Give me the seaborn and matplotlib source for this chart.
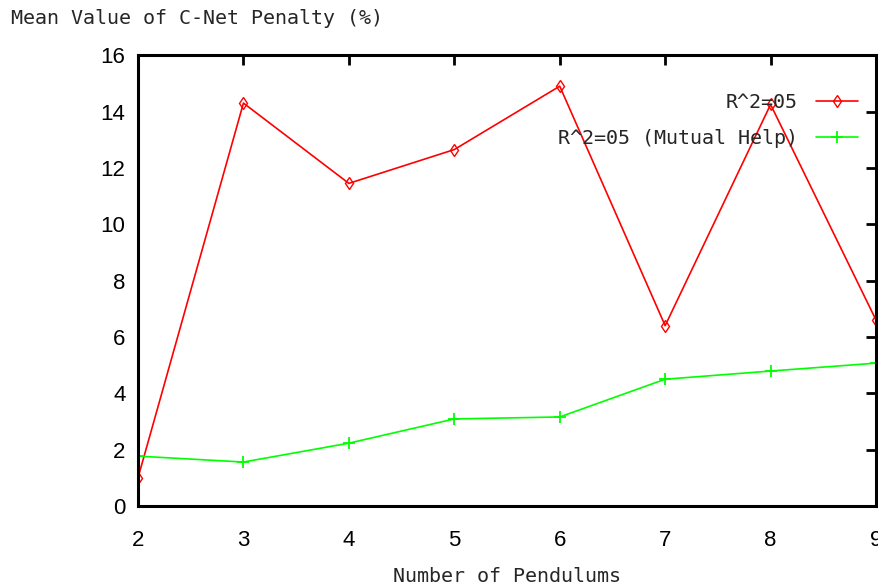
import matplotlib
matplotlib.use("Agg")
import matplotlib.pyplot as plt
import seaborn as sns
import pandas as pd

pendulums = [2, 3, 4, 5, 6, 7, 8, 9]
penalty_r2 = [1.0, 14.3, 11.45, 12.65, 14.9, 6.4, 14.25, 6.6]
penalty_mutual = [1.77, 1.56, 2.23, 3.09, 3.16, 4.5, 4.79, 5.07]
series_names = ["R^2=05", "R^2=05 (Mutual Help)"]
y_ticks = [0, 2, 4, 6, 8, 10, 12, 14, 16]

sns.set_style("white")
plt.rcParams["font.family"] = ["DejaVu Sans Mono"]
mono = 14.4

df_r2 = pd.DataFrame({"Pendulums": pendulums, "Penalty": penalty_r2})
df_mutual = pd.DataFrame({"Pendulums": pendulums, "Penalty": penalty_mutual})

fig = plt.figure(figsize=(8.79, 5.87), dpi=100)
ax = fig.add_axes([0.157, 0.138, 0.8396, 0.768])

sns.lineplot(data=df_r2, x="Pendulums", y="Penalty", color="#ff0000",
             marker="d", markersize=6, markerfacecolor="none",
             markeredgecolor="#ff0000", markeredgewidth=1.0,
             linewidth=1.2, label=series_names[0], ax=ax)
sns.lineplot(data=df_mutual, x="Pendulums", y="Penalty", color="#00ff00",
             marker="+", markersize=9, markeredgewidth=1.3,
             markeredgecolor="#00ff00",
             linewidth=1.2, label=series_names[1], ax=ax)

ax.set_xlim(2, 9)
ax.set_ylim(0, 16)
ax.set_xticks(pendulums)
ax.set_yticks(y_ticks)
ax.tick_params(direction="in", length=7, width=2, top=True, right=True,
               labelsize=16, pad=9, colors="black")
ax.tick_params(axis="x", pad=17)
for lbl in ax.get_xticklabels() + ax.get_yticklabels():
    lbl.set_fontfamily("Liberation Sans")
for sp in ax.spines.values():
    sp.set_linewidth(2.2)
    sp.set_color("black")

ax.set_xlabel("Number of Pendulums", fontsize=mono, labelpad=12)
ax.set_ylabel("")
fig.text(0.012, 0.968, "Mean Value of C-Net Penalty (%)", fontsize=mono, ha="left", va="center")

handles, labels = ax.get_legend_handles_labels()
ax.legend(handles, labels, loc="upper right", frameon=False, markerfirst=False,
          fontsize=mono, bbox_to_anchor=(1.0, 0.955), handlelength=2.1,
          labelspacing=0.85, handletextpad=0.9)

fig.savefig("out.png", dpi=100)
